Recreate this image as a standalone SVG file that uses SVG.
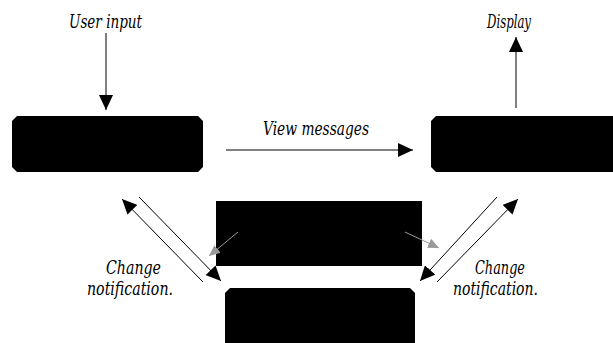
<svg xmlns="http://www.w3.org/2000/svg" width="613" height="343" viewBox="0 0 613 343">
<style>
  .lbl { font-family: 'DejaVu Serif Condensed', 'DejaVu Serif', 'Liberation Serif', serif; font-style: italic; font-size: 18px; fill: #000; }
  .node { fill: #000; stroke: none; }
  .conn { stroke: #000; stroke-width: 1; fill: none; }
  .gray { stroke: #999; stroke-width: 1; fill: none; }
</style>
<defs>
  <marker id="ah" markerUnits="userSpaceOnUse" markerWidth="16" markerHeight="14" refX="15" refY="7" orient="auto">
    <path d="M0,0 L15,7 L0,14 z" fill="#000"/>
  </marker>
  <marker id="ahg" markerUnits="userSpaceOnUse" markerWidth="12" markerHeight="10" refX="11" refY="5" orient="auto">
    <path d="M0,0 L11,5 L0,10 z" fill="#999"/>
  </marker>
</defs>

<g id="controller">
  <polygon class="node" points="17,116 198,116 203,121 203,167 198,172 17,172 12,167 12,121"/>
</g>
<g id="view">
  <polygon class="node" points="436,116 613,116 613,172 436,172 431,167 431,121"/>
</g>
<g id="middle">
  <rect class="node" x="216" y="201" width="206" height="65"/>
</g>
<g id="model">
  <polygon class="node" points="230,288 410,288 415,293 415,343 225,343 225,293"/>
</g>

<g id="connectors">
  <line class="conn" x1="106" y1="33" x2="106" y2="110" marker-end="url(#ah)"/>
  <line class="conn" x1="516" y1="108" x2="516" y2="37" marker-end="url(#ah)"/>
  <line class="conn" x1="226" y1="150" x2="413" y2="150" marker-end="url(#ah)"/>
  <line class="conn" x1="203" y1="282" x2="122" y2="199" marker-end="url(#ah)"/>
  <line class="conn" x1="139" y1="197" x2="221" y2="281" marker-end="url(#ah)"/>
  <line class="conn" x1="497" y1="197" x2="420" y2="281" marker-end="url(#ah)"/>
  <line class="conn" x1="437" y1="282" x2="518" y2="199" marker-end="url(#ah)"/>
  <line class="gray" x1="238" y1="232" x2="209" y2="256" marker-end="url(#ahg)"/>
  <line class="gray" x1="405" y1="232" x2="439" y2="248" marker-end="url(#ahg)"/>
</g>

<g id="labels">
  <text class="lbl" x="69" y="28" textLength="73" lengthAdjust="spacingAndGlyphs">User input</text>
  <text class="lbl" x="487" y="28" textLength="44" lengthAdjust="spacingAndGlyphs">Display</text>
  <text class="lbl" x="263" y="135" textLength="106" lengthAdjust="spacingAndGlyphs">View messages</text>
  <text class="lbl" x="106" y="274" textLength="55" lengthAdjust="spacingAndGlyphs">Change</text>
  <text class="lbl" x="87" y="295" textLength="86" lengthAdjust="spacingAndGlyphs">notification.</text>
  <text class="lbl" x="475" y="274" textLength="50" lengthAdjust="spacingAndGlyphs">Change</text>
  <text class="lbl" x="453" y="295" textLength="85" lengthAdjust="spacingAndGlyphs">notification.</text>
</g>
</svg>
